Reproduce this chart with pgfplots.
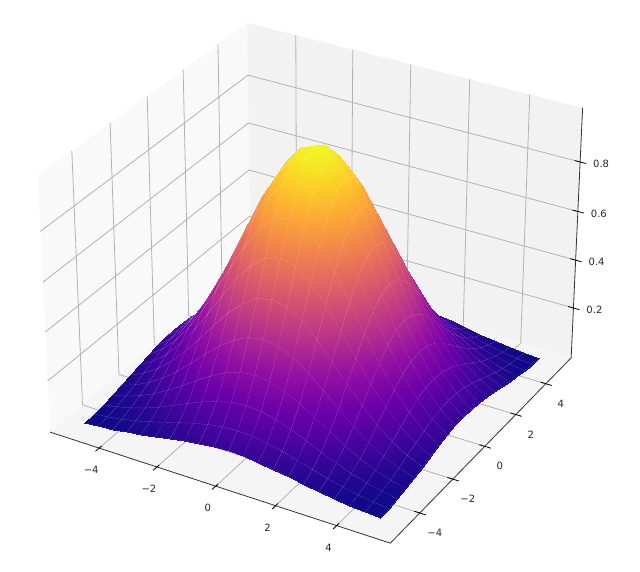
\documentclass[border=0pt]{standalone}
\usepackage{pgfplots}
\pgfplotsset{compat=1.18}
\usepackage{fontspec}
\setmainfont{DejaVu Sans}
\makeatletter
\newdimen\ppx \newdimen\ppy \newdimen\ppz \newdimen\ppw
\def\ppq#1#2#3{%
  \ppx=#1pt \ppy=#2pt \ppz=#3pt
  \ppw=\dimexpr 1.021802pt-.004496\ppx+.007788\ppy-.043465\ppz\relax
  \pgf@x=\dimexpr 315.4pt+(29.461\ppx+17.009\ppy)*65536/\numexpr\ppw\relax\relax
  \pgf@y=\dimexpr 301.5pt+(-8.497\ppx+14.715\ppy+246.39\ppz-123.59pt)*65536/\numexpr\ppw\relax\relax
}
\def\ppinstall{\let\pgfqpointxyz\ppq\let\pgfplotsqpointxyz\ppq}
\ppinstall
\makeatother
\pgfplotsset{colormap={plasma}{rgb255=(13,8,135) rgb255=(65,4,157) rgb255=(106,0,168) rgb255=(143,13,164) rgb255=(177,42,144) rgb255=(204,71,120) rgb255=(225,100,98) rgb255=(242,132,75) rgb255=(252,166,54) rgb255=(252,206,37) rgb255=(240,249,33)}}
\pgfplotstableread{
-5 -5 .0067
-4.5 -5 .0108
-4 -5 .0166
-3.5 -5 .0241
-3 -5 .0334
-2.5 -5 .0439
-2 -5 .0550
-1.5 -5 .0656
-1 -5 .0743
-.5 -5 .0801
0 -5 .0821
.5 -5 .0801
1 -5 .0743
1.5 -5 .0656
2 -5 .0550
2.5 -5 .0439
3 -5 .0334
3.5 -5 .0241
4 -5 .0166
4.5 -5 .0108
5 -5 .0067
-5 -4.5 .0108
-4.5 -4.5 .0174
-4 -4.5 .0267
-3.5 -4.5 .0388
-3 -4.5 .0537
-2.5 -4.5 .0707
-2 -4.5 .0885
-1.5 -4.5 .1054
-1 -4.5 .1194
-.5 -4.5 .1287
0 -4.5 .1320
.5 -4.5 .1287
1 -4.5 .1194
1.5 -4.5 .1054
2 -4.5 .0885
2.5 -4.5 .0707
3 -4.5 .0537
3.5 -4.5 .0388
4 -4.5 .0267
4.5 -4.5 .0174
5 -4.5 .0108
-5 -4 .0166
-4.5 -4 .0267
-4 -4 .0408
-3.5 -4 .0593
-3 -4 .0821
-2.5 -4 .1081
-2 -4 .1353
-1.5 -4 .1612
-1 -4 .1827
-.5 -4 .1969
0 -4 .2019
.5 -4 .1969
1 -4 .1827
1.5 -4 .1612
2 -4 .1353
2.5 -4 .1081
3 -4 .0821
3.5 -4 .0593
4 -4 .0408
4.5 -4 .0267
5 -4 .0166
-5 -3.5 .0241
-4.5 -3.5 .0388
-4 -3.5 .0593
-3.5 -3.5 .0863
-3 -3.5 .1194
-2.5 -3.5 .1572
-2 -3.5 .1969
-1.5 -3.5 .2346
-1 -3.5 .2658
-.5 -3.5 .2865
0 -3.5 .2938
.5 -3.5 .2865
1 -3.5 .2658
1.5 -3.5 .2346
2 -3.5 .1969
2.5 -3.5 .1572
3 -3.5 .1194
3.5 -3.5 .0863
4 -3.5 .0593
4.5 -3.5 .0388
5 -3.5 .0241
-5 -3 .0334
-4.5 -3 .0537
-4 -3 .0821
-3.5 -3 .1194
-3 -3 .1653
-2.5 -3 .2176
-2 -3 .2725
-1.5 -3 .3247
-1 -3 .3679
-.5 -3 .3965
0 -3 .4066
.5 -3 .3965
1 -3 .3679
1.5 -3 .3247
2 -3 .2725
2.5 -3 .2176
3 -3 .1653
3.5 -3 .1194
4 -3 .0821
4.5 -3 .0537
5 -3 .0334
-5 -2.5 .0439
-4.5 -2.5 .0707
-4 -2.5 .1081
-3.5 -2.5 .1572
-3 -2.5 .2176
-2.5 -2.5 .2865
-2 -2.5 .3588
-1.5 -2.5 .4274
-1 -2.5 .4843
-.5 -2.5 .5220
0 -2.5 .5353
.5 -2.5 .5220
1 -2.5 .4843
1.5 -2.5 .4274
2 -2.5 .3588
2.5 -2.5 .2865
3 -2.5 .2176
3.5 -2.5 .1572
4 -2.5 .1081
4.5 -2.5 .0707
5 -2.5 .0439
-5 -2 .0550
-4.5 -2 .0885
-4 -2 .1353
-3.5 -2 .1969
-3 -2 .2725
-2.5 -2 .3588
-2 -2 .4493
-1.5 -2 .5353
-1 -2 .6065
-.5 -2 .6538
0 -2 .6703
.5 -2 .6538
1 -2 .6065
1.5 -2 .5353
2 -2 .4493
2.5 -2 .3588
3 -2 .2725
3.5 -2 .1969
4 -2 .1353
4.5 -2 .0885
5 -2 .0550
-5 -1.5 .0656
-4.5 -1.5 .1054
-4 -1.5 .1612
-3.5 -1.5 .2346
-3 -1.5 .3247
-2.5 -1.5 .4274
-2 -1.5 .5353
-1.5 -1.5 .6376
-1 -1.5 .7225
-.5 -1.5 .7788
0 -1.5 .7985
.5 -1.5 .7788
1 -1.5 .7225
1.5 -1.5 .6376
2 -1.5 .5353
2.5 -1.5 .4274
3 -1.5 .3247
3.5 -1.5 .2346
4 -1.5 .1612
4.5 -1.5 .1054
5 -1.5 .0656
-5 -1 .0743
-4.5 -1 .1194
-4 -1 .1827
-3.5 -1 .2658
-3 -1 .3679
-2.5 -1 .4843
-2 -1 .6065
-1.5 -1 .7225
-1 -1 .8187
-.5 -1 .8825
0 -1 .9048
.5 -1 .8825
1 -1 .8187
1.5 -1 .7225
2 -1 .6065
2.5 -1 .4843
3 -1 .3679
3.5 -1 .2658
4 -1 .1827
4.5 -1 .1194
5 -1 .0743
-5 -.5 .0801
-4.5 -.5 .1287
-4 -.5 .1969
-3.5 -.5 .2865
-3 -.5 .3965
-2.5 -.5 .5220
-2 -.5 .6538
-1.5 -.5 .7788
-1 -.5 .8825
-.5 -.5 .9512
0 -.5 .9753
.5 -.5 .9512
1 -.5 .8825
1.5 -.5 .7788
2 -.5 .6538
2.5 -.5 .5220
3 -.5 .3965
3.5 -.5 .2865
4 -.5 .1969
4.5 -.5 .1287
5 -.5 .0801
-5 0 .0821
-4.5 0 .1320
-4 0 .2019
-3.5 0 .2938
-3 0 .4066
-2.5 0 .5353
-2 0 .6703
-1.5 0 .7985
-1 0 .9048
-.5 0 .9753
0 0 1
.5 0 .9753
1 0 .9048
1.5 0 .7985
2 0 .6703
2.5 0 .5353
3 0 .4066
3.5 0 .2938
4 0 .2019
4.5 0 .1320
5 0 .0821
-5 .5 .0801
-4.5 .5 .1287
-4 .5 .1969
-3.5 .5 .2865
-3 .5 .3965
-2.5 .5 .5220
-2 .5 .6538
-1.5 .5 .7788
-1 .5 .8825
-.5 .5 .9512
0 .5 .9753
.5 .5 .9512
1 .5 .8825
1.5 .5 .7788
2 .5 .6538
2.5 .5 .5220
3 .5 .3965
3.5 .5 .2865
4 .5 .1969
4.5 .5 .1287
5 .5 .0801
-5 1 .0743
-4.5 1 .1194
-4 1 .1827
-3.5 1 .2658
-3 1 .3679
-2.5 1 .4843
-2 1 .6065
-1.5 1 .7225
-1 1 .8187
-.5 1 .8825
0 1 .9048
.5 1 .8825
1 1 .8187
1.5 1 .7225
2 1 .6065
2.5 1 .4843
3 1 .3679
3.5 1 .2658
4 1 .1827
4.5 1 .1194
5 1 .0743
-5 1.5 .0656
-4.5 1.5 .1054
-4 1.5 .1612
-3.5 1.5 .2346
-3 1.5 .3247
-2.5 1.5 .4274
-2 1.5 .5353
-1.5 1.5 .6376
-1 1.5 .7225
-.5 1.5 .7788
0 1.5 .7985
.5 1.5 .7788
1 1.5 .7225
1.5 1.5 .6376
2 1.5 .5353
2.5 1.5 .4274
3 1.5 .3247
3.5 1.5 .2346
4 1.5 .1612
4.5 1.5 .1054
5 1.5 .0656
-5 2 .0550
-4.5 2 .0885
-4 2 .1353
-3.5 2 .1969
-3 2 .2725
-2.5 2 .3588
-2 2 .4493
-1.5 2 .5353
-1 2 .6065
-.5 2 .6538
0 2 .6703
.5 2 .6538
1 2 .6065
1.5 2 .5353
2 2 .4493
2.5 2 .3588
3 2 .2725
3.5 2 .1969
4 2 .1353
4.5 2 .0885
5 2 .0550
-5 2.5 .0439
-4.5 2.5 .0707
-4 2.5 .1081
-3.5 2.5 .1572
-3 2.5 .2176
-2.5 2.5 .2865
-2 2.5 .3588
-1.5 2.5 .4274
-1 2.5 .4843
-.5 2.5 .5220
0 2.5 .5353
.5 2.5 .5220
1 2.5 .4843
1.5 2.5 .4274
2 2.5 .3588
2.5 2.5 .2865
3 2.5 .2176
3.5 2.5 .1572
4 2.5 .1081
4.5 2.5 .0707
5 2.5 .0439
-5 3 .0334
-4.5 3 .0537
-4 3 .0821
-3.5 3 .1194
-3 3 .1653
-2.5 3 .2176
-2 3 .2725
-1.5 3 .3247
-1 3 .3679
-.5 3 .3965
0 3 .4066
.5 3 .3965
1 3 .3679
1.5 3 .3247
2 3 .2725
2.5 3 .2176
3 3 .1653
3.5 3 .1194
4 3 .0821
4.5 3 .0537
5 3 .0334
-5 3.5 .0241
-4.5 3.5 .0388
-4 3.5 .0593
-3.5 3.5 .0863
-3 3.5 .1194
-2.5 3.5 .1572
-2 3.5 .1969
-1.5 3.5 .2346
-1 3.5 .2658
-.5 3.5 .2865
0 3.5 .2938
.5 3.5 .2865
1 3.5 .2658
1.5 3.5 .2346
2 3.5 .1969
2.5 3.5 .1572
3 3.5 .1194
3.5 3.5 .0863
4 3.5 .0593
4.5 3.5 .0388
5 3.5 .0241
-5 4 .0166
-4.5 4 .0267
-4 4 .0408
-3.5 4 .0593
-3 4 .0821
-2.5 4 .1081
-2 4 .1353
-1.5 4 .1612
-1 4 .1827
-.5 4 .1969
0 4 .2019
.5 4 .1969
1 4 .1827
1.5 4 .1612
2 4 .1353
2.5 4 .1081
3 4 .0821
3.5 4 .0593
4 4 .0408
4.5 4 .0267
5 4 .0166
-5 4.5 .0108
-4.5 4.5 .0174
-4 4.5 .0267
-3.5 4.5 .0388
-3 4.5 .0537
-2.5 4.5 .0707
-2 4.5 .0885
-1.5 4.5 .1054
-1 4.5 .1194
-.5 4.5 .1287
0 4.5 .1320
.5 4.5 .1287
1 4.5 .1194
1.5 4.5 .1054
2 4.5 .0885
2.5 4.5 .0707
3 4.5 .0537
3.5 4.5 .0388
4 4.5 .0267
4.5 4.5 .0174
5 4.5 .0108
-5 5 .0067
-4.5 5 .0108
-4 5 .0166
-3.5 5 .0241
-3 5 .0334
-2.5 5 .0439
-2 5 .0550
-1.5 5 .0656
-1 5 .0743
-.5 5 .0801
0 5 .0821
.5 5 .0801
1 5 .0743
1.5 5 .0656
2 5 .0550
2.5 5 .0439
3 5 .0334
3.5 5 .0241
4 5 .0166
4.5 5 .0108
5 5 .0067
}\surfacetable
\begin{document}
\begin{tikzpicture}
\begin{axis}[
  disabledatascaling, set layers, clip=false,
  x={(29.46pt,-8.5pt)}, y={(17pt,14.7pt)}, z={(0pt,246pt)},
  xmin=-5.73,xmax=5.73,ymin=-5.73,ymax=5.73,zmin=-0.012,zmax=1.015,
  xtick={-4,-2,0,2,4}, ytick={-4,-2,0,2,4}, ztick={0.2,0.4,0.6,0.8},
  xticklabels={−4,−2,0,2,4}, yticklabels={−4,−2,0,2,4}, zticklabels={0.2,0.4,0.6,0.8},
  xtick pos=left, xticklabel pos=left, ytick pos=left, yticklabel pos=left,
  ztick pos=right, zticklabel pos=right,
  grid=major, grid style={color=black!30,line width=0.8pt},
  major tick length=0pt, tick style={draw=none},
  ticklabel style={font=\fontsize{10}{12}\selectfont, text=black!85},
  xticklabel style={anchor=center,xshift=-8pt,yshift=-22pt},
  yticklabel style={anchor=center,xshift=15pt,yshift=-20pt},
  zticklabel style={anchor=center,xshift=21pt,yshift=-2pt},
  axis line style={draw=none},
  colormap name=plasma,
  execute at begin axis={\ppinstall},
]
\addplot3[on layer=axis background, fill={rgb,1:red,0.975;green,0.975;blue,0.975}, draw=none, forget plot] coordinates {(-5.73,-5.73,-0.012)(-5.73,5.73,-0.012)(-5.73,5.73,1.015)(-5.73,-5.73,1.015)} --cycle;
\addplot3[on layer=axis background, fill={rgb,1:red,0.95;green,0.95;blue,0.95}, draw=none, forget plot] coordinates {(-5.73,5.73,-0.012)(5.73,5.73,-0.012)(5.73,5.73,1.015)(-5.73,5.73,1.015)} --cycle;
\addplot3[on layer=axis background, fill={rgb,1:red,0.9625;green,0.9625;blue,0.9625}, draw=none, forget plot] coordinates {(-5.73,-5.73,-0.012)(5.73,-5.73,-0.012)(5.73,5.73,-0.012)(-5.73,5.73,-0.012)} --cycle;
\addplot3[black!80,line width=0.8pt,forget plot] coordinates {(-5.73,-5.73,-0.012)(5.73,-5.73,-0.012)(5.73,5.73,-0.012)(5.73,5.73,1.015)};
\addplot3[black,line width=0.8pt,forget plot] coordinates {(-4,-5.93,-0.012)(-4,-5.6,-0.012)};
\addplot3[black,line width=0.8pt,forget plot] coordinates {(-2,-5.93,-0.012)(-2,-5.6,-0.012)};
\addplot3[black,line width=0.8pt,forget plot] coordinates {(0,-5.93,-0.012)(0,-5.6,-0.012)};
\addplot3[black,line width=0.8pt,forget plot] coordinates {(2,-5.93,-0.012)(2,-5.6,-0.012)};
\addplot3[black,line width=0.8pt,forget plot] coordinates {(4,-5.93,-0.012)(4,-5.6,-0.012)};
\addplot3[black,line width=0.8pt,forget plot] coordinates {(5.55,-4,-0.012)(5.93,-4,-0.012)};
\addplot3[black,line width=0.8pt,forget plot] coordinates {(5.55,-2,-0.012)(5.93,-2,-0.012)};
\addplot3[black,line width=0.8pt,forget plot] coordinates {(5.55,0,-0.012)(5.93,0,-0.012)};
\addplot3[black,line width=0.8pt,forget plot] coordinates {(5.55,2,-0.012)(5.93,2,-0.012)};
\addplot3[black,line width=0.8pt,forget plot] coordinates {(5.55,4,-0.012)(5.93,4,-0.012)};
\addplot3[black,line width=0.8pt,forget plot] coordinates {(5.55,5.73,0.2)(5.93,5.73,0.2)};
\addplot3[black,line width=0.8pt,forget plot] coordinates {(5.55,5.73,0.4)(5.93,5.73,0.4)};
\addplot3[black,line width=0.8pt,forget plot] coordinates {(5.55,5.73,0.6)(5.93,5.73,0.6)};
\addplot3[black,line width=0.8pt,forget plot] coordinates {(5.55,5.73,0.8)(5.93,5.73,0.8)};
\addplot3[surf, shader=faceted interp, faceted color=white, draw opacity=0.25, line width=0.1pt, mesh/rows=21, mesh/cols=21, point meta=z] table {\surfacetable};
\path (0pt,0pt) rectangle (640pt,572pt);
\end{axis}
\end{tikzpicture}
\end{document}
